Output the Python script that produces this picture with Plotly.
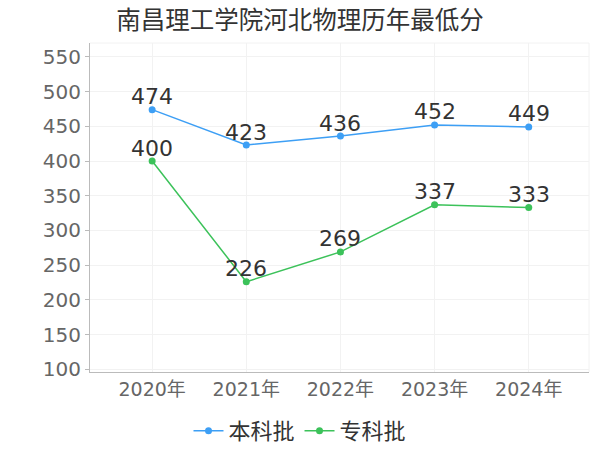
import plotly.graph_objects as go

years = ["2020年", "2021年", "2022年", "2023年", "2024年"]
benke = [474, 423, 436, 452, 449]
zhuanke = [400, 226, 269, 337, 333]
series_names = ["本科批", "专科批"]
colors = ["#3D9FF5", "#3CC25A"]

FONT = "DejaVu Sans, Noto Sans CJK SC, sans-serif"
CJK = "Noto Sans CJK SC, sans-serif"

fig = go.Figure()
for name, vals, c in zip(series_names, [benke, zhuanke], colors):
    fig.add_trace(go.Scatter(
        x=years, y=vals, name=name, mode="lines+markers",
        line=dict(color=c, width=1.5),
        marker=dict(color=c, size=7),
        cliponaxis=False,
    ))
    for xv, yv in zip(years, vals):
        fig.add_annotation(x=xv, y=yv, text=str(yv), showarrow=False,
                           yanchor="middle", xanchor="center", yshift=13,
                           font=dict(size=22, color="#333333", family=FONT))

fig.update_layout(
    width=600, height=450,
    margin=dict(l=90, r=11, t=43, b=78, autoexpand=False),
    paper_bgcolor="white", plot_bgcolor="white",
    font=dict(family=FONT, color="#666666"),
    title=dict(text="南昌理工学院河北物理历年最低分", x=0.5, xanchor="center",
               y=0.955, yanchor="middle",
               font=dict(size=24.5, color="#333333", family=CJK)),
    showlegend=True,
    legend=dict(orientation="h", xref="container", x=0.5, xanchor="center",
                y=-0.115, yanchor="top",
                font=dict(size=22, color="#333333", family=CJK),
                itemwidth=30, tracegroupgap=0),
    xaxis=dict(type="category", range=[-0.66, 4.64], automargin=False,
               showgrid=True, gridcolor="#F2F2F2",
               showline=True, linecolor="#BBBBBB", linewidth=1,
               ticks="", tickfont=dict(size=19, color="#666666"),
               mirror=False, zeroline=False),
    yaxis=dict(range=[96, 570], tickvals=list(range(100, 551, 50)), automargin=False,
               showgrid=True, gridcolor="#F2F2F2",
               showline=True, linecolor="#BBBBBB", linewidth=1,
               ticks="outside", ticklen=4, tickcolor="#BBBBBB",
               tickfont=dict(size=20, color="#666666"), zeroline=False),
)
fig.add_shape(type="line", xref="paper", yref="paper", x0=1, x1=1, y0=0, y1=1,
              line=dict(color="#F2F2F2", width=1))
fig.add_shape(type="line", xref="paper", yref="paper", x0=0, x1=1, y0=1, y1=1,
              line=dict(color="#F2F2F2", width=1))

fig.write_html("out.html", config={"displayModeBar": False},
               post_script="document.body.style.margin='0';document.body.style.overflow='hidden';")
